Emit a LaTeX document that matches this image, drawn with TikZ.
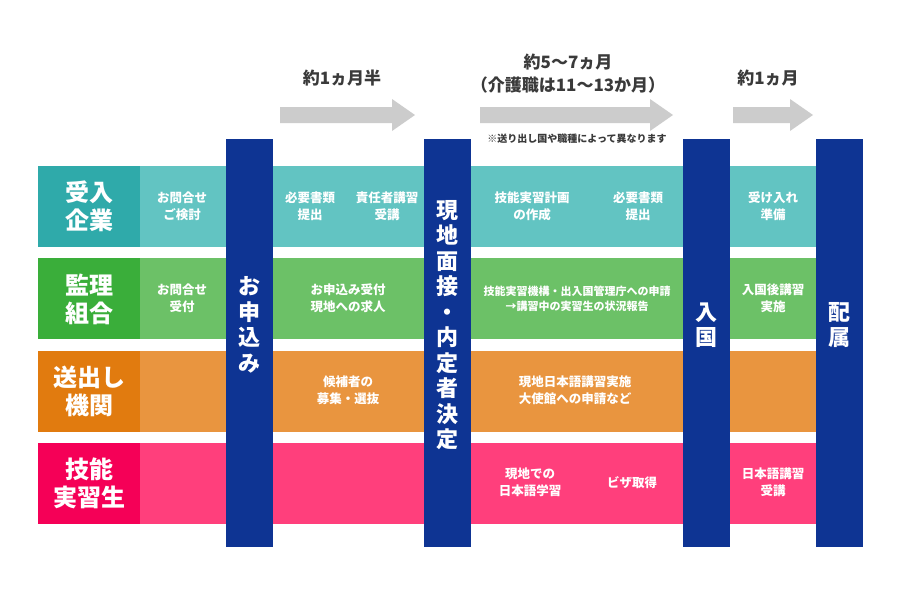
\documentclass[tikz,border=0pt]{standalone}
\usepackage{fontspec}
\setmainfont{Noto Sans CJK JP}
\usetikzlibrary{positioning}
\definecolor{navy}{HTML}{0E3493}
\definecolor{tealdark}{HTML}{2FAAAA}
\definecolor{teallight}{HTML}{62C4C2}
\definecolor{greendark}{HTML}{3AAE3A}
\definecolor{greenlight}{HTML}{6CC167}
\definecolor{orangedark}{HTML}{E17B0F}
\definecolor{orangelight}{HTML}{E9953F}
\definecolor{pinkdark}{HTML}{F50057}
\definecolor{pinklight}{HTML}{FF3F7C}
\definecolor{arrowgray}{HTML}{CCCCCC}
\definecolor{textgray}{HTML}{3A3A3A}
\begin{document}
\begin{tikzpicture}[x=1pt, y=-1pt,
     every node/.style = {inner sep=0pt, align=center, text=white},
     rowhead/.style = {minimum width=102pt, minimum height=81pt,
         font=\bfseries\fontsize{24}{28}\selectfont},
     band/.style = {minimum width=700pt, minimum height=81pt},
     bar/.style = {fill=navy, minimum width=47pt, minimum height=408pt},
     bartext/.style = {font=\bfseries\fontsize{22}{25.5}\selectfont},
     cell/.style = {font=\bfseries\fontsize{12.5}{17}\selectfont},
     period/.style = {text=textgray, font=\bfseries\fontsize{17}{23}\selectfont}]
        \useasboundingbox (0,0) rectangle (900,600);
        \fill[white] (0,0) rectangle (900,600);
        % rows
        \node [rowhead, fill=tealdark] (ukeire) at (89,206.5) {受入\\企業};
        \node [band, fill=teallight, right=0pt of ukeire] (ukeireband) {};
        \node [rowhead, fill=greendark, below=11pt of ukeire] (kanri) {監理\\組合};
        \node [band, fill=greenlight, right=0pt of kanri] (kanriband) {};
        \node [rowhead, fill=orangedark, below=11pt of kanri] (okuri) {送出し\\機関};
        \node [band, fill=orangelight, right=0pt of okuri] (okuriband) {};
        \node [rowhead, fill=pinkdark, below=11pt of okuri] (jisshu) {技能\\実習生};
        \node [band, fill=pinklight, right=0pt of jisshu] (jisshuband) {};
        % milestones
        \node [bar] (moshikomi) at (249,343) {};
        \node [bar] (mensetsu) at (447,343) {};
        \node [bar] (nyukoku) at (706.5,343) {};
        \node [bar] (haizoku) at (839,343) {};
        \node [bartext] at ([yshift=18pt]moshikomi.center) {お\\申\\込\\み};
        \node [bartext] at ([yshift=18pt]mensetsu.center) {現\\地\\面\\接\\・\\内\\定\\者\\決\\定};
        \node [bartext] at ([yshift=18pt]nyukoku.center) {入\\国};
        \node [bartext] at ([yshift=18pt]haizoku.center) {配\\属};
        % periods
        \foreach \xa/\xb in {280/415, 480/673, 733/813}
            \fill[arrowgray] (\xa,107) -- (\xb-23,107) -- (\xb-23,99) -- (\xb,115)
                -- (\xb-23,131) -- (\xb-23,123) -- (\xa,123) -- cycle;
        \node [period] (term1) at (342,78) {約1ヵ月半};
        \node [period] (term2) at (568,73.5) {約5〜7ヵ月\\（介護職は11〜13か月）};
        \node [period, font=\bfseries\fontsize{10}{12}\selectfont] (note) at (577,139)
            {※送り出し国や職種によって異なります};
        \node [period] (term3) at (768,78) {約1ヵ月};
        % cells
        \node [cell] (u1) at (182,206.5) {お問合せ\\ご検討};
        \node [cell] (u2) at (310,206.5) {必要書類\\提出};
        \node [cell] (u3) at (387,206.5) {責任者講習\\受講};
        \node [cell] (u4) at (532,206.5) {技能実習計画\\の作成};
        \node [cell] (u5) at (638,206.5) {必要書類\\提出};
        \node [cell] (u6) at (773,206.5) {受け入れ\\準備};
        \node [cell] (k1) at (182,298.5) {お問合せ\\受付};
        \node [cell] (k2) at (348,298.5) {お申込み受付\\現地への求人};
        \node [cell, font=\bfseries\fontsize{11}{15}\selectfont] (k3) at (577,298.5)
            {技能実習機構・出入国管理庁への申請\\→講習中の実習生の状況報告};
        \node [cell] (k4) at (773,298.5) {入国後講習\\実施};
        \node [cell] (o1) at (348,390.5) {候補者の\\募集・選抜};
        \node [cell] (o2) at (575,390.5) {現地日本語講習実施\\大使館への申請など};
        \node [cell] (j1) at (530,482.5) {現地での\\日本語学習};
        \node [cell] (j2) at (632,482.5) {ビザ取得};
        \node [cell] (j3) at (773,482.5) {日本語講習\\受講};
        \end{tikzpicture}
\end{document}
